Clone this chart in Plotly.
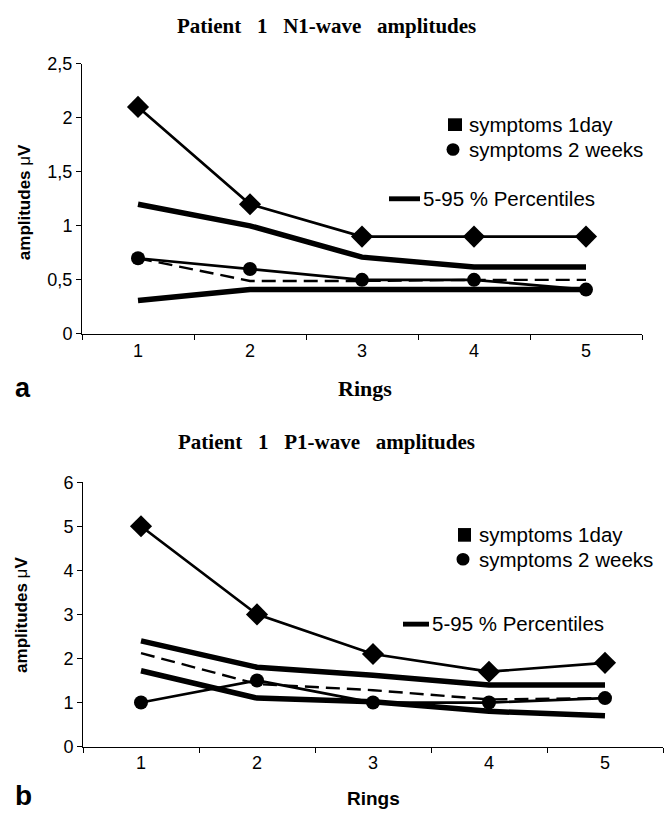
import plotly.graph_objects as go

# ---------------- data ----------------
rings = ["1", "2", "3", "4", "5"]

n1_day1 = [2.1, 1.2, 0.9, 0.9, 0.9]
n1_week2 = [0.7, 0.6, 0.5, 0.5, 0.41]
n1_p95 = [1.2, 1.0, 0.71, 0.62, 0.62]
n1_p5 = [0.31, 0.41, 0.41, 0.41, 0.41]
n1_mid = [0.7, 0.49, 0.49, 0.5, 0.5]

p1_day1 = [5.0, 3.0, 2.1, 1.7, 1.9]
p1_week2 = [1.0, 1.5, 1.0, 1.0, 1.1]
p1_p95 = [2.4, 1.8, 1.62, 1.4, 1.4]
p1_p5 = [1.72, 1.1, 1.02, 0.8, 0.7]
p1_mid = [2.12, 1.42, 1.28, 1.07, 1.1]

n1_yticks = [0, 0.5, 1, 1.5, 2, 2.5]
p1_yticks = [0, 1, 2, 3, 4, 5, 6]

W, H = 665, 820
def px(x):
    return x / W
def py(y):
    return 1 - y / H

SANS = "Liberation Sans, Arial, sans-serif"
SERIF = "Liberation Serif, Times New Roman, serif"
NB = "\u00a0"

fig = go.Figure()

def add_panel(xa, ya, day1, week2, p95, p5, mid):
    common = dict(xaxis=xa, yaxis=ya, showlegend=False, hoverinfo="skip")
    fig.add_trace(go.Scatter(x=rings, y=p95, mode="lines",
                             line=dict(color="black", width=5.5), **common))
    fig.add_trace(go.Scatter(x=rings, y=p5, mode="lines",
                             line=dict(color="black", width=5.5), **common))
    fig.add_trace(go.Scatter(x=rings, y=mid, mode="lines",
                             line=dict(color="black", width=2.4, dash="14px,7px"), **common))
    fig.add_trace(go.Scatter(x=rings, y=week2, mode="lines+markers",
                             line=dict(color="black", width=2.7),
                             marker=dict(symbol="circle", size=14, color="black"), **common))
    fig.add_trace(go.Scatter(x=rings, y=day1, mode="lines+markers",
                             line=dict(color="black", width=2.7),
                             marker=dict(symbol="diamond", size=17, color="black"), **common))

add_panel("x", "y", n1_day1, n1_week2, n1_p95, n1_p5, n1_mid)
add_panel("x2", "y2", p1_day1, p1_week2, p1_p95, p1_p5, p1_mid)

xcommon = dict(type="category", tickson="boundaries", ticks="outside", ticklen=5,
               tickwidth=1, tickcolor="black", showline=True, linecolor="black",
               linewidth=1, showgrid=False, zeroline=False, range=[-0.5, 4.5],
               tickfont=dict(family=SANS, size=18, color="black"), fixedrange=True)
ycommon = dict(ticks="outside", ticklen=5, tickwidth=1, tickcolor="black",
               showline=True, linecolor="black", linewidth=1, showgrid=False,
               zeroline=False, tickfont=dict(family=SANS, size=18, color="black"),
               fixedrange=True)

fig.update_layout(
    width=W, height=H,
    margin=dict(l=0, r=0, t=0, b=0),
    paper_bgcolor="white", plot_bgcolor="white",
    separators=",.",
    xaxis=dict(domain=[px(82), px(642)], anchor="y", **xcommon),
    yaxis=dict(domain=[py(332), py(55)], anchor="x", range=[0, 2.5],
               tickvals=n1_yticks, **ycommon),
    xaxis2=dict(domain=[px(83), px(663)], anchor="y2", **xcommon),
    yaxis2=dict(domain=[py(755), py(484)], anchor="x2", range=[0, 6],
                tickvals=p1_yticks, **ycommon),
)

ann = []
def text(x, y, s, font, size, bold=False, xanchor="center", angle=0):
    ann.append(dict(x=px(x), y=py(y), xref="paper", yref="paper", text=(f"<b>{s}</b>" if bold else s),
                    showarrow=False, xanchor=xanchor, yanchor="middle", textangle=angle,
                    font=dict(family=font, size=size, color="black")))

sp = NB * 3
text(326, 16, f"Patient{sp}1{sp}N1-wave{sp}amplitudes", SERIF, 21, True)
text(326, 443, f"Patient{sp}1{sp}P1-wave{sp}amplitudes", SERIF, 21, True)
text(365, 388, "Rings", SERIF, 22, True)
text(373, 808, "Rings", SANS, 19, True)
text(23, 387, "a", SANS, 27, True)
text(23, 805, "b", SANS, 28, True)
text(24, 197, "amplitudes <span style='font-weight:normal'>\u03bc</span>V", SANS, 17, True, angle=-90)
text(22, 620, "amplitudes <span style='font-weight:normal'>\u03bc</span>V", SANS, 17, True, angle=-90)

# legends (top)
text(467, 117, "symptoms 1day", SANS, 20.5, xanchor="left")
text(467, 143, "symptoms 2 weeks", SANS, 20.5, xanchor="left")
text(421, 193, "5-95 % Percentiles", SANS, 20.5, xanchor="left")
# legends (bottom)
text(477, 538, "symptoms 1day", SANS, 20.5, xanchor="left")
text(477, 563, "symptoms 2 weeks", SANS, 20.5, xanchor="left")
text(430, 629, "5-95 % Percentiles", SANS, 20.5, xanchor="left")

shapes = []
def rect(x0, y0, x1, y1):
    shapes.append(dict(type="rect", xref="paper", yref="paper", x0=px(x0), x1=px(x1),
                       y0=py(y1), y1=py(y0), fillcolor="black", line=dict(width=0)))
def circ(cx, cy, r):
    shapes.append(dict(type="circle", xref="paper", yref="paper", x0=px(cx - r), x1=px(cx + r),
                       y0=py(cy + r), y1=py(cy - r), fillcolor="black", line=dict(width=0)))

rect(448, 111, 462, 124)
circ(453, 143, 6.5)
rect(389, 191, 420, 196)
rect(458, 531, 471, 545)
circ(463, 563, 6.5)
rect(403, 627, 429, 632)

fig.update_layout(annotations=ann, shapes=shapes)
fig.write_html("out.html", config={"displayModeBar": False},
               post_script="document.body.style.margin='0';document.body.style.overflow='hidden';")
